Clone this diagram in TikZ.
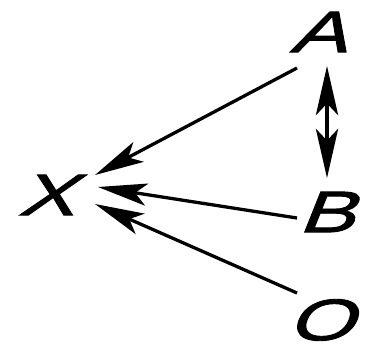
\documentclass[tikz,border=0pt]{standalone}
\usepackage{fontspec}
\newfontfamily\hand[FakeSlant=0.4,FakeStretch=1.45,FakeBold=1.5]{Liberation Sans}
\usepackage{tikz}
\usetikzlibrary{arrows.meta}

\begin{document}
\begin{tikzpicture}[x=0.03cm,y=-0.03cm]
\tikzstyle{l}=[inner sep=0pt,font=\hand\fontsize{50}{50}\selectfont]
\tikzstyle{tip}=[-{Stealth[length=42pt,width=19pt,inset=10pt]}]
\tikzstyle{e}=[line width=2.8pt,tip]
\tikzstyle{ee}=[line width=2.8pt,{Stealth[length=42pt,width=19pt,inset=10pt]}-{Stealth[length=42pt,width=19pt,inset=10pt]}]
\useasboundingbox (0,0) rectangle (374,356);
\node[l] (X) at (46,195) {X};
\node[l] (A) at (318,32) {A};
\node[l] (B) at (326,212) {B};
\node[l] (O) at (320,320) {O};
\draw[e] ([shift={(-21,36)}]A.center) -- ([shift={(49,-20)}]X.center);
\draw[e] ([shift={(-29,6)}]B.center) -- ([shift={(52,-8)}]X.center);
\draw[e] ([shift={(-23,-27)}]O.center) -- ([shift={(49,9)}]X.center);
\draw[ee] ([shift={(9,34)}]A.center) -- ([shift={(1,-34)}]B.center);
\end{tikzpicture}
\end{document}
